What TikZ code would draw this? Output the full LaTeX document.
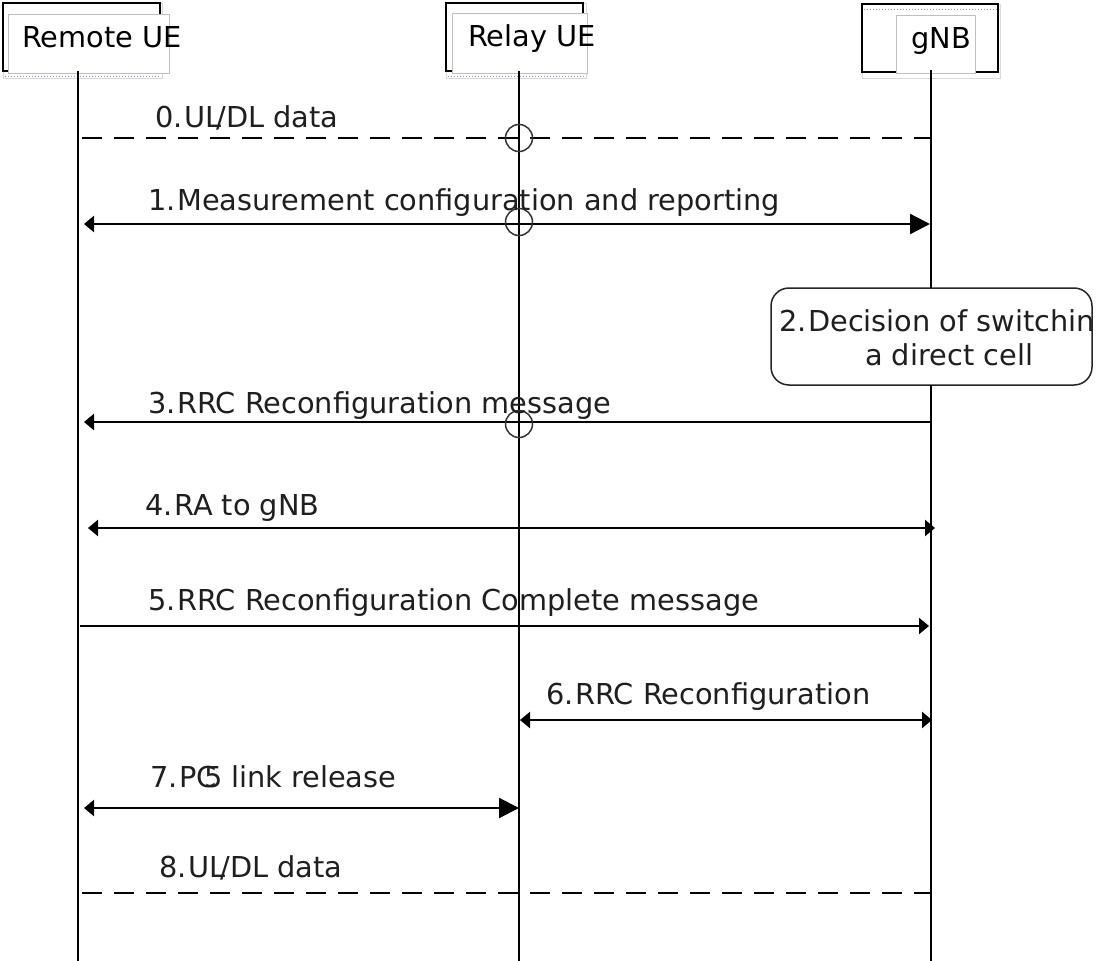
\documentclass[tikz,border=0pt]{standalone}
\usepackage{fontspec}
\setmainfont{DejaVu Sans}
\usetikzlibrary{arrows.meta}
\tikzset{
  tipS/.tip={Triangle[length=10pt,width=16pt]},
  tipB/.tip={Triangle[length=20pt,width=20pt]},
}
\newcommand{\nsp}{\kern1.5pt}
\newcommand{\uldl}{UL\kern-5pt/DL}
\begin{document}
\begin{tikzpicture}[x=1pt,y=-1pt,
  life/.style={line width=2.3pt, draw=black},
  msg/.style={line width=2.3pt, draw=black},
  dmsg/.style={line width=2.3pt, draw=black, dash pattern=on 20pt off 12pt},
  lbl/.style={anchor=base west, inner sep=0pt, text=black!88, font=\fontsize{28.8}{35}\selectfont},
  hdrtext/.style={anchor=base west, inner sep=0pt, text=black, font=\fontsize{28.8}{35}\selectfont},
  outerbox/.style={draw=black, line width=1.5pt},
  innerbox/.style={draw=black!25, fill=white, line width=1pt},
  faint/.style={draw=black!15, line width=0.8pt},
  dots/.style={draw=blue!45!white, line width=1pt, dotted},
  crossing/.style={circle, draw=black!80, line width=1.5pt, minimum size=27pt, inner sep=0pt},
  decision/.style={draw=black!85, line width=1.5pt, rounded corners=18pt}
]
\useasboundingbox (0,0) rectangle (1096,961);
\fill[white] (0,0) rectangle (1096,961);

% ---- header: Remote UE
\draw[faint] (3,3) rectangle (162,78);
\draw[dots] (5,76) -- (161,76);
\draw[outerbox] (3,3) rectangle (160,71);
\draw[innerbox] (8,14) rectangle (169,73);
\node[hdrtext] (remt) at (22,47) {Remote UE};
\coordinate (remtop) at (78,71);
\coordinate (rembot) at (78,961);

% ---- header: Relay UE
\draw[faint] (446,3) rectangle (586,78);
\draw[dots] (448,76) -- (585,76);
\draw[outerbox] (446,3) rectangle (583,71);
\draw[innerbox] (452,13) rectangle (587,73);
\node[hdrtext] (relt) at (468,46) {Relay UE};
\coordinate (reltop) at (519,71);
\coordinate (relbot) at (519,961);

% ---- header: gNB
\draw[faint] (862,4) rectangle (1000,78);
\draw[dots] (864,9) -- (998,9);
\draw[outerbox] (862,4) rectangle (998,72);
\draw[innerbox] (896,15) rectangle (975,73);
\node[hdrtext] (gnbt) at (911,48) {gNB};
\coordinate (gnbtop) at (931,70);
\coordinate (gnbbot) at (931,961);

% ---- decision box
\draw[decision] (771,288) rectangle (1092,385);
\coordinate (decn) at (931,288);
\coordinate (decs) at (931,385);
\node[lbl] (dec1) at (779,331) {2.\nsp Decision of switchin};
\node[lbl] (dec2) at (865,365) {a direct cell};

% ---- lifelines
\draw[life] (remtop) -- (rembot);
\draw[life] (reltop) -- (relbot);
\draw[life] (gnbtop) -- (decn);
\draw[life] (decs) -- (gnbbot);

% ---- message end points
\coordinate (m0a) at (82,138);  \coordinate (m0b) at (931,138);
\coordinate (m1a) at (84,224);  \coordinate (m1b) at (930,224);
\coordinate (m3a) at (931,422); \coordinate (m3b) at (84,422);
\coordinate (m4a) at (88,528);  \coordinate (m4b) at (935,528);
\coordinate (m5a) at (80,626);  \coordinate (m5b) at (929,626);
\coordinate (m6a) at (520,720); \coordinate (m6b) at (932,720);
\coordinate (m7a) at (84,808);  \coordinate (m7b) at (519,808);
\coordinate (m8a) at (82,893);  \coordinate (m8b) at (931,893);

% ---- messages
\draw[dmsg] (m0a) -- (m0b);
\node[crossing] (x0) at (519,138) {};
\node[lbl] (l0) at (155,127) {0.\nsp \uldl{} data};

\draw[msg, tipS-tipB] (m1a) -- (m1b);
\node[crossing] (x1) at (519,222) {};
\node[lbl] (l1) at (148,210) {1.\nsp Measurement configuration and reporting};

\draw[msg, -tipS] (m3a) -- (m3b);
\node[crossing] (x3) at (519,424) {};
\node[lbl] (l3) at (148,413) {3.\nsp RRC Reconfiguration message};

\draw[msg, tipS-tipS] (m4a) -- (m4b);
\node[lbl] (l4) at (145,515) {4.\nsp RA to gNB};

\draw[msg, -tipS] (m5a) -- (m5b);
\node[lbl] (l5) at (148,610) {5.\nsp RRC Reconfiguration Complete message};

\draw[msg, tipS-tipS] (m6a) -- (m6b);
\node[lbl] (l6) at (546,704) {6.\nsp RRC Reconfiguration};

\draw[msg, tipS-tipB] (m7a) -- (m7b);
\node[lbl] (l7) at (150,787) {7.\nsp PC\kern-12pt 5\kern-1pt{} link release};

\draw[dmsg] (m8a) -- (m8b);
\node[lbl] (l8) at (159,877) {8.\nsp \uldl{} data};
\end{tikzpicture}
\end{document}
